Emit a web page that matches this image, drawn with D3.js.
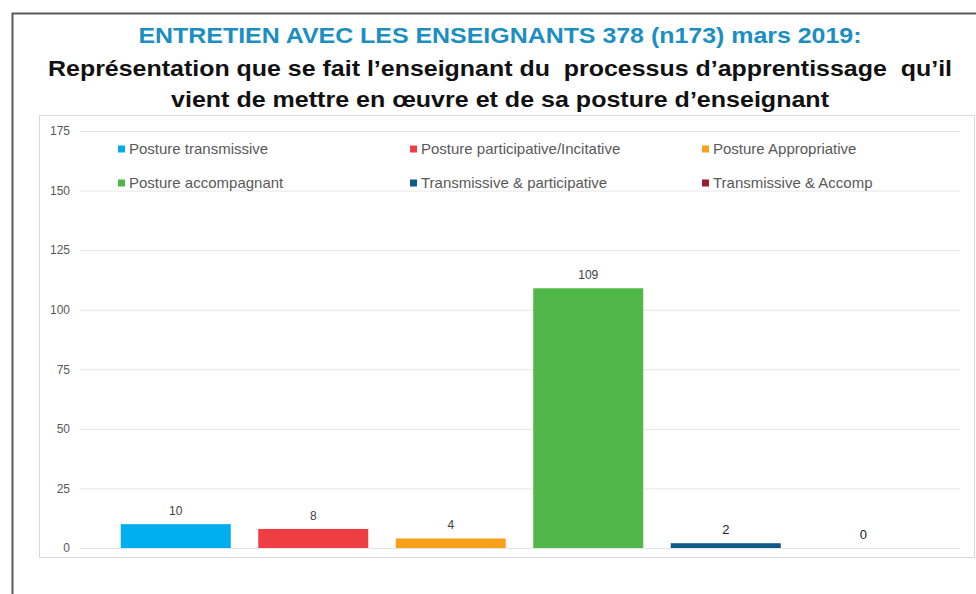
<!DOCTYPE html>
<html>
<head>
<meta charset="utf-8">
<script src="https://cdn.jsdelivr.net/npm/d3@7"></script>
<style>
  body { margin: 0; background: #fff; }
  svg { display: block; font-family: "Liberation Sans", Arial, sans-serif; }
  .title { white-space: pre; }
</style>
</head>
<body>
<div id="chart"></div>
<script>
const titleLines = [
  "ENTRETIEN AVEC LES ENSEIGNANTS 378 (n173) mars 2019:",
  "Représentation que se fait l’enseignant du  processus d’apprentissage  qu’il",
  "vient de mettre en œuvre et de sa posture d’enseignant",
];
const categories = [
  "Posture transmissive",
  "Posture participative/Incitative",
  "Posture Appropriative",
  "Posture accompagnant",
  "Transmissive & participative",
  "Transmissive & Accomp",
];
const values = [10, 8, 4, 109, 2, 0];
const colors = ["#00AEEF", "#EF3E42", "#F7A11A", "#50B848", "#0E5A8A", "#9E1B32"];
const yTicks = [0, 25, 50, 75, 100, 125, 150, 175];

const width = 976;
const height = 594;
const plot = { left: 80, right: 960, top: 131, bottom: 548 };

const svg = d3.select("#chart")
  .append("svg")
  .attr("width", width)
  .attr("height", height);

// outer frame (slide border)
svg.append("path")
  .attr("d", `M12.5,${height} V13.5 H${width}`)
  .attr("fill", "none")
  .attr("stroke", "#5a5a5a")
  .attr("stroke-width", 2);

// inner chart area box
svg.append("rect")
  .attr("x", 39.5)
  .attr("y", 115.5)
  .attr("width", 935)
  .attr("height", 442)
  .attr("fill", "#fff")
  .attr("stroke", "#d9d9d9");

// title
const titleY = [35, 68, 99];
const titleWidth = [723, 904, 658];
svg.append("g")
  .selectAll("text")
  .data(titleLines)
  .join("text")
  .attr("class", "title")
  .attr("x", 500)
  .attr("y", (d, i) => titleY[i])
  .attr("dy", "0.35em")
  .attr("text-anchor", "middle")
  .attr("font-weight", "bold")
  .attr("font-size", 22)
  .attr("textLength", (d, i) => titleWidth[i])
  .attr("lengthAdjust", "spacingAndGlyphs")
  .attr("fill", (d, i) => (i === 0 ? "#1B8EC2" : "#111"))
  .text((d) => d);

const x = d3.scaleBand()
  .domain(categories)
  .range([107, 932])
  .paddingInner(0.2)
  .paddingOuter(0.1);

const y = d3.scaleLinear()
  .domain([0, 175])
  .range([plot.bottom, plot.top]);

// gridlines + tick labels
const yAxis = svg.append("g")
  .attr("transform", `translate(${plot.left},0)`)
  .call(d3.axisLeft(y).tickValues(yTicks).tickSize(-(plot.right - plot.left)).tickPadding(10));
yAxis.select(".domain").remove();
yAxis.selectAll(".tick line").attr("stroke", "#e6e6e6");
yAxis.selectAll(".tick text")
  .attr("fill", "#595959")
  .attr("font-size", 12)
  .attr("font-family", "Liberation Sans, Arial, sans-serif");

// bars
svg.append("g")
  .selectAll("rect")
  .data(values)
  .join("rect")
  .attr("x", (d, i) => x(categories[i]))
  .attr("y", (d) => y(d))
  .attr("width", x.bandwidth())
  .attr("height", (d) => y(0) - y(d))
  .attr("fill", (d, i) => colors[i]);

// value labels
svg.append("g")
  .selectAll("text")
  .data(values)
  .join("text")
  .attr("x", (d, i) => x(categories[i]) + x.bandwidth() / 2)
  .attr("y", (d) => y(d) - 9)
  .attr("text-anchor", "middle")
  .attr("font-size", (d, i) => (i > 3 ? 13 : 12))
  .attr("fill", (d, i) => (i > 3 ? "#222" : "#404040"))
  .text((d) => d);

// legend: 3 columns, 2 rows
const legendX = [118, 410, 702];
const legendY = [149, 183];
const legend = svg.append("g")
  .selectAll("g")
  .data(categories)
  .join("g")
  .attr("transform", (d, i) => `translate(${legendX[i % 3]},${legendY[Math.floor(i / 3)]})`);
legend.append("rect")
  .attr("x", 0)
  .attr("y", -3.5)
  .attr("width", 7)
  .attr("height", 7)
  .attr("fill", (d, i) => colors[i]);
legend.append("text")
  .attr("x", 11)
  .attr("dy", "0.35em")
  .attr("font-size", 15)
  .attr("fill", "#595959")
  .text((d) => d);
</script>
</body>
</html>
